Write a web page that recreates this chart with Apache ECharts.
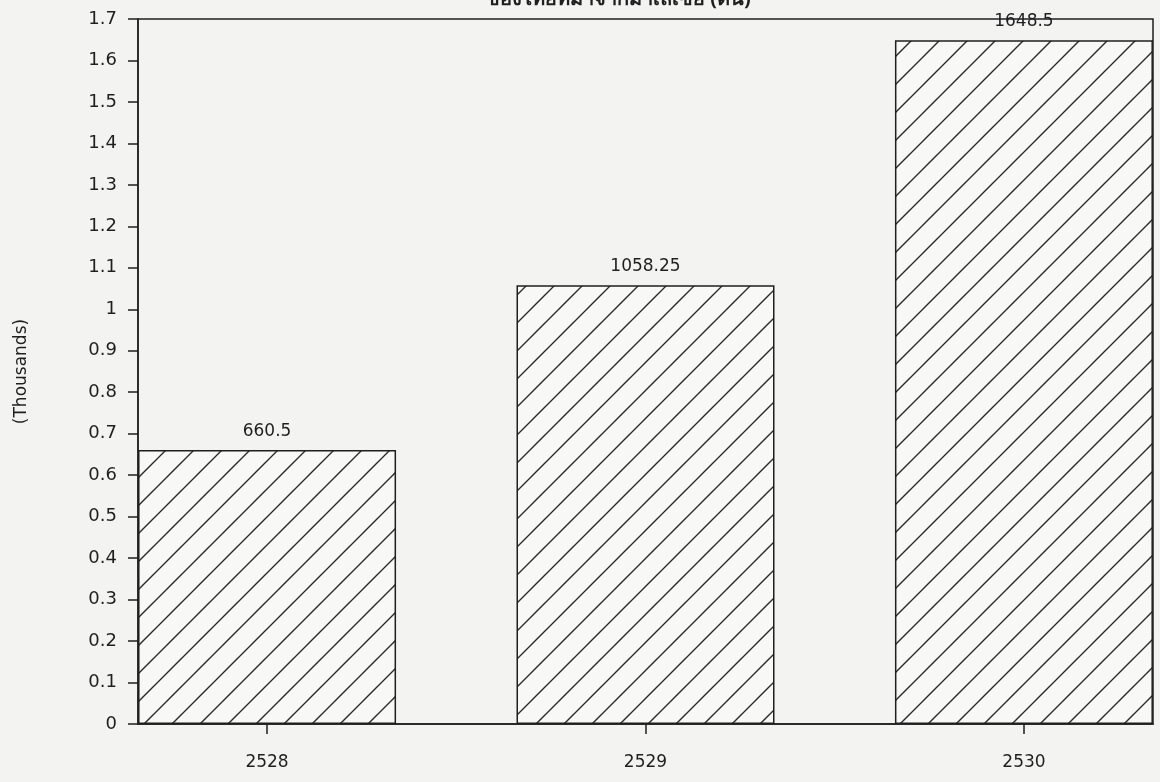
<!DOCTYPE html>
<html>
<head>
<meta charset="utf-8">
<title>Bar chart</title>
<script src="https://cdn.jsdelivr.net/npm/echarts@6/dist/echarts.min.js"></script>
<style>
  html, body { margin: 0; padding: 0; background: #f3f3f1; }
  #chart { width: 1160px; height: 782px; }
</style>
</head>
<body>
<div id="chart"></div>
<script>
// Years (Buddhist era) and quantities, in units; axis shows thousands
const years = [2528, 2529, 2530];
const values = [660.5, 1058.25, 1648.5];
const titleText = 'ของไทยที่มาจากมาเลเซีย (ตัน)';
const yAxisName = '(Thousands)';

const ink = '#1f1f1f';
const sansFont = '"DejaVu Sans", "Liberation Sans", sans-serif';

// Diagonal "/" hatch fill for the bars
function makeHatch() {
  const s = 28;
  const c = document.createElement('canvas');
  c.width = s; c.height = s;
  const g = c.getContext('2d');
  g.fillStyle = '#f8f8f6';
  g.fillRect(0, 0, s, s);
  g.strokeStyle = '#2b2b2b';
  g.lineWidth = 1.4;
  g.beginPath();
  g.moveTo(0, s); g.lineTo(s, 0);
  g.moveTo(-s / 4, s / 4); g.lineTo(s / 4, -s / 4);
  g.moveTo(s - s / 4, s + s / 4); g.lineTo(s + s / 4, s - s / 4);
  g.stroke();
  return c;
}

const chart = echarts.init(document.getElementById('chart'), null, { renderer: 'canvas' });

const option = {
  backgroundColor: '#f3f3f1',
  animation: false,
  graphic: [{
    type: 'text',
    left: 486,
    top: -11,
    style: {
      text: titleText,
      font: 'bold 20px "Noto Sans", "DejaVu Sans", sans-serif',
      fill: ink
    }
  }],
  grid: {
    left: 138,
    right: 7,
    top: 19,
    bottom: 58,
    show: true,
    borderColor: ink,
    borderWidth: 1.5,
    backgroundColor: 'transparent'
  },
  xAxis: {
    type: 'value',
    min: 2527.659,
    max: 2530.341,
    axisLine: { show: true, lineStyle: { color: ink, width: 1.5 } },
    axisTick: { show: true, length: 10, customValues: years, lineStyle: { color: ink, width: 1.5 } },
    axisLabel: {
      customValues: years,
      margin: 30,
      color: ink,
      fontSize: 17,
      fontFamily: sansFont,
      formatter: v => String(v)
    },
    splitLine: { show: false }
  },
  yAxis: {
    type: 'value',
    min: 0,
    max: 1700,
    interval: 100,
    name: yAxisName,
    nameLocation: 'middle',
    nameGap: 108,
    nameRotate: 90,
    nameTextStyle: { color: ink, fontSize: 17, fontFamily: sansFont },
    axisLine: { show: true, lineStyle: { color: ink, width: 1.5 } },
    axisTick: { show: true, length: 10, inside: false, lineStyle: { color: ink, width: 1.5 } },
    axisLabel: {
      margin: 21,
      color: ink,
      fontSize: 18,
      fontFamily: sansFont,
      formatter: v => String(parseFloat((v / 1000).toFixed(1)))
    },
    splitLine: { show: false }
  },
  series: [{
    type: 'bar',
    barWidth: 258,
    data: years.map((y, i) => [y, values[i]]),
    itemStyle: {
      color: { image: makeHatch(), repeat: 'repeat' },
      borderColor: ink,
      borderWidth: 1.5
    },
    label: {
      show: true,
      position: 'top',
      distance: 10,
      color: ink,
      fontSize: 17,
      fontFamily: sansFont,
      formatter: p => String(p.value[1])
    }
  }]
};

chart.setOption(option);
</script>
</body>
</html>
